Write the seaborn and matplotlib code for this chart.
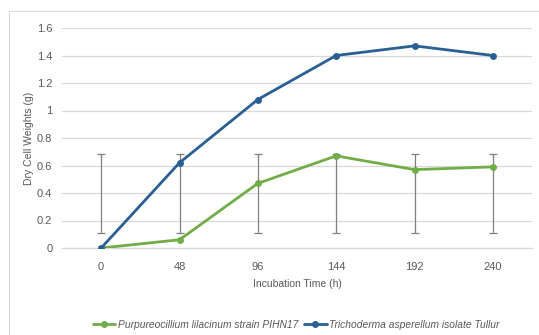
import matplotlib
matplotlib.use("Agg")
import matplotlib.pyplot as plt
import seaborn as sns
import pandas as pd
from matplotlib.lines import Line2D
from matplotlib.patches import Rectangle

# ---- data ----
times = ["0", "48", "96", "144", "192", "240"]
purpureo = [0.0, 0.06, 0.47, 0.67, 0.57, 0.59]
tricho = [0.0, 0.62, 1.08, 1.40, 1.47, 1.40]
err_low = [0.11, 0.11, 0.11, 0.11, 0.11, 0.11]
err_high = [0.685, 0.685, 0.685, 0.685, 0.685, 0.685]
series_names = ["Purpureocillium lilacinum strain PIHN17",
                "Trichoderma asperellum isolate Tullur"]
yticks = [0, 0.2, 0.4, 0.6, 0.8, 1, 1.2, 1.4, 1.6]
yticklabels = ["0", "0.2", "0.4", "0.6", "0.8", "1", "1.2", "1.4", "1.6"]

GREEN = "#70ad47"
BLUE = "#2a5f93"
GREY = "#595959"

sns.set_theme(style="white")
plt.rcParams['font.family'] = ['Liberation Sans', 'DejaVu Sans']

df = pd.DataFrame({
    "time": times * 2,
    "weight": purpureo + tricho,
    "series": [series_names[0]] * len(times) + [series_names[1]] * len(times),
})

fig = plt.figure(figsize=(5.39, 3.35), dpi=100)
fig.patches.append(Rectangle((9 / 539, -0.1), 1.2, 1 - 11 / 335 + 0.1,
                             transform=fig.transFigure, fill=False,
                             edgecolor="#d9d9d9", linewidth=0.8))
ax = fig.add_axes([62 / 539, (335 - 248) / 335, 470 / 539, 220 / 335])

# error bars
centers = [(lo + hi) / 2 for lo, hi in zip(err_low, err_high)]
half = [(hi - lo) / 2 for lo, hi in zip(err_low, err_high)]
ax.errorbar(times, centers, yerr=half, fmt="none", ecolor="#7f7f7f",
            elinewidth=0.9, capsize=3, capthick=0.9, zorder=2)

sns.lineplot(data=df, x="time", y="weight", hue="series",
             palette=[GREEN, BLUE], marker="o", markersize=5,
             markeredgewidth=0, linewidth=2.0, ax=ax, legend=False,
             sort=False, zorder=3)

ax.set_xlim(-0.5, 5.5)
ax.set_ylim(0, 1.6)
ax.set_yticks(yticks)
ax.set_yticklabels(yticklabels)
ax.grid(axis="y", color="#d9d9d9", linewidth=0.9)
ax.set_axisbelow(True)
for s in ["top", "right", "left"]:
    ax.spines[s].set_visible(False)
ax.spines["bottom"].set_color("#d9d9d9")
ax.spines["bottom"].set_linewidth(0.9)
ax.tick_params(axis="both", length=0, labelsize=8, labelcolor=GREY)
ax.tick_params(axis="x", pad=10)
ax.tick_params(axis="y", pad=7)
ax.set_xlabel("Incubation Time (h)", fontsize=7.5, color=GREY, labelpad=5)
ax.set_ylabel("Dry Cell Weights (g)", fontsize=7.5, color=GREY, labelpad=2)

handles = [Line2D([0], [0], color=GREEN, lw=2.0, marker="o", markersize=5, markeredgewidth=0),
           Line2D([0], [0], color=BLUE, lw=2.0, marker="o", markersize=5, markeredgewidth=0)]
leg = fig.legend(handles, series_names, loc="center", bbox_to_anchor=(296 / 539, 1 - 325 / 335),
                 ncol=2, frameon=False, fontsize=7.4, handlelength=2.2, columnspacing=0.6,
                 handletextpad=0.2)
for t in leg.get_texts():
    t.set_style("italic")
    t.set_color(GREY)

fig.savefig("out.png", dpi=100)
